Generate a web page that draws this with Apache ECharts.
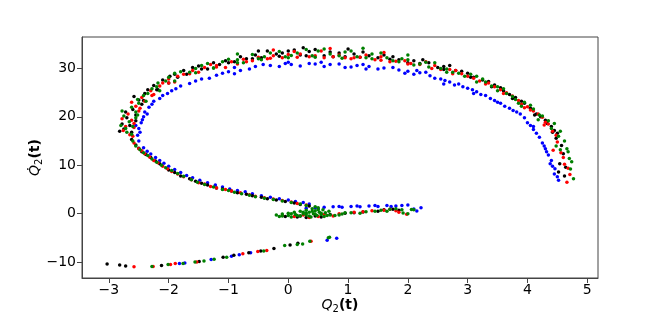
<!DOCTYPE html>
<html>
<head>
<meta charset="utf-8">
<script src="https://cdn.jsdelivr.net/npm/echarts@6/dist/echarts.min.js"></script>
<style>
html,body{margin:0;padding:0;background:#fff;}
#c{width:664px;height:313px;}
</style>
</head>
<body>
<div id="c"></div>
<script>
// Tick values
const xTicks = [-3, -2, -1, 0, 1, 2, 3, 4, 5];
const yTicks = [-10, 0, 10, 20, 30];

// Series names (drawing order)
const seriesNames = ['blue', 'black', 'red', 'green'];

// Points [Q2, dQ2/dt]
const bluePts = [
  [-1.82,-10.3],[-1.73,-10.2],[-1.29,-9.5],[-0.95,-8.8],[-0.82,-8.5],[-0.63,-8.1],[0.65,-5.5],[0.81,-5.1],
  [0.3,1.1],[0.45,1.2],[0.6,1.3],[0.75,1.4],[0.9,1.3],[1.05,1.5],[1.2,1.4],[1.35,1.6],[1.5,1.5],[1.65,1.7],[1.8,1.6],[1.9,1.7],[2.15,0.55],[2.22,1.24],[2.1,0.95],
  [0.5,1.0],[0.85,1.5],[1.15,1.6],[1.45,1.7],[1.72,1.5],[2.0,1.8],
  [0.25,2.3],[0.0,2.8],[-0.3,3.4],[-0.6,4.1],[-0.85,4.8],[-1.1,5.5],[-1.35,6.4],[-1.6,7.4],[-1.8,8.5],[-2.0,9.8],[-2.15,11.0],[-2.3,12.3],[-2.42,13.6],[-2.5,15.0],
  [0.35,2.0],[0.12,2.5],[-0.15,3.1],[-0.45,3.7],[-0.72,4.5],[-0.98,5.1],[-1.22,5.9],[-1.48,6.9],[-1.7,7.9],[-1.9,9.1],[-2.08,10.4],[-2.22,11.6],[-2.36,12.9],
  [-2.52,16.2],[-2.5,17.6],[-2.46,18.8],[-2.42,20.0],[-2.4,21.0],[-2.33,22.0],[-2.25,23.2],[-2.1,24.4],[-1.95,25.4],[-1.8,26.4],[-1.65,26.9],[-1.45,27.8],[-1.2,28.6],[-1.0,29.3],[-0.8,29.6],[-0.55,30.4],[-0.3,30.6],[-0.05,31.0],[0.2,30.5],[0.45,30.9],[0.7,30.8],[0.95,30.2],[1.15,30.6],[1.35,30.4],[1.6,30.1],[1.85,29.7],[2.0,29.4],[2.2,29.1],[2.37,28.5],[2.55,27.8],[2.7,27.2],[2.85,26.8],[3.0,25.9],[3.15,25.2],[3.3,24.4],[3.45,23.4],[3.55,22.8],[3.7,21.8],[3.82,21.0],[3.95,19.8],[4.0,18.8],[4.1,17.4],[4.2,15.8],[4.25,14.6],[4.3,13.4],[4.35,12.1],[4.38,10.3],[4.46,9.3],[4.52,6.9],[4.45,8.2],
  [-2.48,16.8],[-2.55,18.2],[-2.44,19.4],[-2.36,20.6],[-2.28,22.6],[-2.15,23.8],[-2.02,24.8],[-1.88,25.8],[-1.55,27.4],[-1.32,28.0],[-1.1,29.0],[-0.9,28.9],[-0.65,29.9],[-0.42,30.8],[-0.15,30.4],[0.05,30.8],[0.35,31.0],[0.6,30.4],[0.85,30.9],[1.05,30.3],[1.25,30.8],[1.5,29.9],[1.75,30.2],[2.1,28.8],[2.3,29.2],[2.45,28.0],[2.62,27.5],[2.78,26.6],[2.92,26.2],[3.08,25.6],[3.22,24.6],[3.38,23.8],[3.62,22.2],[3.76,21.3],[3.88,20.6],[4.05,18.2],[4.15,16.6],[4.28,14.0],[4.32,12.8],[4.4,11.0],[4.42,9.8],[4.5,7.6],
  [-0.9,30.2],[0.0,31.3],[0.55,31.3],[1.3,29.9],[1.95,29.0],[2.15,29.6],[2.6,26.8],[3.1,24.8],[3.5,23.0],[4.1,18.0]
];
const blackPts = [
  [-3.03,-10.4],[-2.82,-10.6],[-2.72,-10.8],[-2.12,-10.7],[-1.49,-9.9],[-1.09,-9.0],[-0.91,-8.6],[-0.66,-8.1],[-0.46,-7.7],[-0.24,-7.2],[0.03,-6.5],[0.16,-6.1],
  [-0.05,-0.6],[0.15,-0.7],[0.3,-0.8],[0.45,-0.5],[0.7,-0.2],[0.95,0.1],[1.25,0.35],[1.5,0.5],[1.75,0.9],[1.85,0.7],
  [0.55,-0.7],[0.2,-0.5],[1.1,0.2],[1.6,0.8],
  [0.35,1.6],[0.1,2.2],[-0.2,2.8],[-0.45,3.4],[-0.7,4.0],[-0.95,4.7],[-1.2,5.3],[-1.35,5.9],[-1.55,6.7],[-1.8,7.8],[-2.0,9.0],[-2.15,10.3],[-2.3,11.6],[-2.45,12.8],[-2.55,14.2],[-2.62,15.3],
  [0.2,1.9],[-0.05,2.5],[-0.35,3.1],[-0.6,3.7],[-0.85,4.3],[-1.1,5.1],[-1.45,6.3],[-1.65,7.2],[-1.9,8.5],[-2.22,10.9],[-2.38,12.2],[-2.5,13.5],
  [-2.75,17.5],[-2.7,19.8],[-2.78,18.5],[-2.6,21.5],[-2.5,23.5],[-2.4,24.8],[-2.25,26.5],[-2.1,27.6],[-1.9,28.8],[-1.75,29.6],[-1.5,30.5],[-1.25,31.2],[-1.05,31.6],[-0.8,32.4],[-0.55,32.8],[-0.35,33.6],[-0.1,33.2],[0.1,33.8],[0.35,33.5],[0.6,32.6],[0.85,33.2],[1.1,33.0],[1.35,32.6],[1.6,32.8],[1.85,31.8],[2.1,31.6],[2.35,31.2],[2.6,30.4],[2.8,29.6],[3.0,29.0],[3.25,27.6],[3.45,26.6],[3.6,25.4],[3.8,24.0],[3.9,23.2],[4.05,21.8],[4.15,20.6],[4.3,19.3],[4.4,18.0],[4.5,16.6],[4.45,17.2],[4.57,14.1],[4.6,12.4],[4.54,10.3],[4.52,8.6],[4.62,7.8],
  [-2.82,17.0],[-2.65,18.2],[-2.55,20.4],[-2.72,21.0],[-2.45,22.6],[-2.58,24.2],[-2.35,25.6],[-2.18,25.6],[-2.0,27.0],[-1.98,28.4],[-1.7,28.8],[-1.6,30.2],[-1.35,29.9],[-1.15,30.8],[-0.9,31.4],[-0.7,32.0],[-0.45,32.2],[-0.2,33.0],[0.0,33.6],[0.2,32.8],[0.45,33.9],[0.7,33.4],[0.95,32.4],[1.25,33.4],[1.5,32.2],[1.75,32.4],[2.0,31.2],[2.25,31.8],[2.5,30.2],[2.7,30.6],[2.9,29.4],[3.1,28.2],[3.35,27.3],[3.55,26.0],[3.7,24.6],[3.95,22.8],[4.22,20.0],[4.33,18.6],[4.48,15.6],[4.64,9.6],
  [-2.62,16.8],[-2.55,19.2],[-2.42,23.4],[-2.2,25.6],[-1.85,28.2],[-1.45,29.9],[-1.0,31.2],[-0.6,32.0],[-0.15,32.5],[0.3,32.6],[0.75,32.4],[1.2,32.3],[1.7,31.9],[2.2,31.0],[2.6,29.8],[3.05,28.2],[3.4,26.2],[3.75,23.8],[4.12,20.4],[4.42,16.8],[0.25,34.3],[1.0,34.0],[-0.5,33.6]
];
const redPts = [
  [-2.58,-11.0],[-2.26,-10.9],[-1.97,-10.5],[-1.89,-10.3],[-1.53,-10.0],[-0.76,-8.3],[-0.51,-7.8],[-0.36,-7.6],[0.38,-5.7],
  [-0.1,-0.4],[0.1,-0.6],[0.25,-0.3],[0.5,-0.6],[0.6,-0.2],[0.85,0.0],[1.1,0.3],[1.4,0.6],[1.6,0.7],[1.8,0.6],[1.98,-0.15],
  [0.35,-0.8],[0.75,-0.5],[1.25,0.4],[1.7,0.9],[1.85,0.3],
  [0.3,1.8],[0.05,2.4],[-0.25,3.0],[-0.55,3.6],[-0.8,4.3],[-1.05,5.0],[-1.3,5.6],[-1.5,6.4],[-1.75,7.6],[-1.95,8.7],[-2.1,9.8],[-2.25,11.0],[-2.4,12.4],[-2.5,13.4],[-2.58,14.6],
  [0.15,2.1],[-0.1,2.7],[-0.4,3.3],[-0.65,3.9],[-0.95,4.7],[-1.2,5.3],[-1.4,6.1],[-1.62,7.0],[-1.85,8.2],[-2.02,9.3],[-2.18,10.5],[-2.32,11.7],[-2.45,13.0],
  [-2.65,16.3],[-2.72,18.0],[-2.62,19.3],[-2.68,20.6],[-2.55,22.2],[-2.45,24.0],[-2.3,25.4],[-2.15,26.4],[-2.0,27.8],[-1.85,28.4],[-1.6,29.6],[-1.4,30.2],[-1.2,30.6],[-0.95,31.4],[-0.75,31.9],[-0.5,32.3],[-0.25,32.6],[0.0,32.9],[0.2,33.0],[0.45,32.6],[0.75,32.4],[0.95,32.2],[1.2,32.3],[1.45,31.8],[1.7,31.4],[1.95,31.6],[2.2,30.8],[2.45,30.6],[2.7,29.8],[2.9,28.9],[3.1,28.0],[3.35,27.0],[3.55,25.6],[3.75,24.3],[3.85,23.4],[4.0,22.1],[4.1,21.2],[4.25,19.9],[4.35,18.5],[4.42,17.0],[4.43,13.1],[4.5,14.8],[4.6,11.6],[4.68,9.4],[4.71,8.1],[4.66,6.5],
  [-2.76,17.2],[-2.58,17.8],[-2.78,19.6],[-2.5,21.2],[-2.62,23.0],[-2.4,23.2],[-2.25,24.6],[-2.1,27.0],[-1.9,27.2],[-1.75,28.8],[-1.5,29.2],[-1.3,30.8],[-1.05,30.2],[-0.85,30.9],[-0.6,31.6],[-0.35,32.0],[-0.1,32.2],[0.1,33.5],[0.35,32.4],[0.55,33.6],[0.85,32.8],[1.1,32.2],[1.3,32.8],[1.55,32.4],[1.8,31.5],[2.05,31.0],[2.3,31.4],[2.55,29.8],[2.8,29.6],[3.0,28.4],[3.2,27.4],[3.45,26.2],[3.65,25.0],[3.9,22.6],[4.05,21.4],[4.18,20.6],[4.3,18.9],[4.48,16.2],[4.56,12.6],[4.62,10.2],
  [-2.6,16.0],[-2.58,18.6],[-2.48,21.8],[-2.28,24.4],[-2.0,27.0],[-1.65,28.9],[-1.2,30.3],[-0.7,31.4],[-0.3,32.1],[0.15,32.3],[0.6,32.2],[1.05,32.0],[1.55,31.7],[2.0,30.9],[2.4,30.0],[2.75,28.9],[3.3,26.8],[3.6,24.8],[3.95,21.9],[4.28,18.3],[0.7,34.1],[-0.25,33.8],[1.6,33.3]
];
const greenPts = [
  [-2.28,-10.9],[-2.01,-10.5],[-1.76,-10.3],[-1.56,-10.0],[-1.41,-9.8],[-1.24,-9.4],[-1.03,-9.0],[-0.41,-7.7],[-0.06,-6.6],[0.15,-6.4],[0.24,-6.3],[0.36,-5.7],[0.67,-5.0],[0.69,-4.9],
  [-0.2,-0.3],[-0.1,-0.1],[-0.1,-0.5],[0.0,0.1],[0.0,-0.4],[0.05,-0.7],[0.1,0.3],[0.12,-0.2],[0.2,0.5],[0.2,-0.5],[0.25,0.0],[0.3,0.7],[0.3,-0.3],[0.35,0.3],[0.38,-0.7],[0.4,1.0],[0.42,0.0],[0.45,0.6],[0.48,-0.4],[0.5,1.2],[0.52,0.3],[0.55,-0.2],[0.58,0.8],[0.6,-0.6],[0.62,0.2],[0.7,-0.3],[0.78,-0.4],[0.9,-0.1],[1.05,0.2],[1.3,0.4],[1.55,0.7],[1.7,0.9],[1.9,0.8],[2.0,0.0],[2.06,0.83],[1.92,0.12],
  [-0.15,-0.6],[0.05,0.0],[0.15,-0.4],[0.25,0.3],[0.3,0.1],[0.35,-0.5],[0.4,0.5],[0.45,-0.1],[0.5,0.8],[0.55,0.1],[0.65,-0.4],[0.68,0.5],[0.85,-0.3],[0.95,0.2],[1.2,0.1],[1.45,0.5],[1.65,0.5],[1.8,1.0],[2.1,0.8],
  [0.45,1.4],[0.2,2.0],[-0.1,2.6],[-0.4,3.2],[-0.65,3.8],[-0.9,4.4],[-1.1,5.0],[-1.4,6.0],[-1.62,7.0],[-1.85,8.3],[-2.05,9.5],[-2.2,10.6],[-2.35,12.0],[-2.48,13.2],[-2.6,15.0],
  [0.3,1.7],[0.05,2.3],[-0.25,2.9],[-0.55,3.5],[-0.78,4.1],[-1.0,4.8],[-1.25,5.5],[-1.52,6.5],[-1.75,7.7],[-1.95,8.9],[-2.12,10.0],[-2.28,11.3],[-2.42,12.6],[-2.55,14.0],
  [-2.7,16.8],[-2.8,18.2],[-2.66,19.0],[-2.75,20.2],[-2.62,22.0],[-2.5,22.8],[-2.42,24.4],[-2.28,25.8],[-2.18,27.0],[-2.0,28.2],[-1.8,29.3],[-1.55,30.0],[-1.35,31.0],[-1.1,31.4],[-0.85,31.8],[-0.6,32.9],[-0.4,32.4],[-0.15,33.5],[0.05,32.7],[0.3,33.9],[0.5,33.6],[0.7,33.0],[0.95,33.4],[1.15,32.4],[1.4,33.0],[1.65,32.2],[1.9,32.0],[2.1,30.7],[2.3,31.3],[2.55,30.0],[2.75,29.2],[2.95,28.4],[3.15,28.4],[3.3,27.2],[3.5,26.2],[3.65,24.8],[3.8,23.6],[3.95,23.0],[4.1,21.6],[4.2,20.4],[4.35,19.2],[4.45,18.6],[4.52,16.0],[4.48,14.0],[4.62,15.0],[4.74,10.7],[4.68,12.8],[4.77,7.2],[4.7,11.4],
  [-2.72,17.6],[-2.6,18.0],[-2.55,19.8],[-2.78,21.2],[-2.55,21.0],[-2.52,23.6],[-2.35,24.8],[-2.2,26.2],[-2.05,27.4],[-1.9,29.0],[-1.65,29.2],[-1.45,30.6],[-1.25,30.1],[-1.0,31.9],[-0.75,31.2],[-0.5,32.0],[-0.3,33.2],[-0.05,32.4],[0.15,33.2],[0.4,32.6],[0.6,34.0],[0.85,32.6],[1.05,33.6],[1.3,32.2],[1.55,33.2],[1.75,31.6],[2.0,31.8],[2.2,30.9],[2.45,31.2],[2.65,29.9],[2.85,29.0],[3.05,28.8],[3.25,27.8],[3.4,26.4],[3.6,25.8],[3.75,24.2],[3.9,22.2],[4.05,22.4],[4.25,20.2],[4.4,17.6],[4.55,17.0],[4.66,13.4],[4.72,9.2],
  [-2.62,16.4],[-2.52,20.4],[-2.38,23.2],[-2.15,25.4],[-1.9,27.4],[-1.55,29.1],[-1.25,30.1],[-0.85,31.2],[-0.45,31.8],[0.0,32.2],[0.45,32.3],[0.9,32.1],[1.4,32.0],[1.85,31.4],[2.35,30.3],[2.65,29.2],[3.15,27.2],[3.5,25.4],[3.85,22.8],[4.18,19.4],[4.55,13.2],[-0.85,33.0],[1.25,34.2],[2.0,32.8]
];

const colors = {blue:'#0000ff', black:'#000000', red:'#ff0000', green:'#008000'};
const dataByName = {blue: bluePts, black: blackPts, red: redPts, green: greenPts};

const fmt = v => (v < 0 ? '\u2212' + (-v) : String(v));
const FONT = 'DejaVu Sans';
const nameRich = {
  i: {fontStyle: 'italic', fontSize: 14, fontFamily: FONT, color: '#000'},
  s: {fontSize: 10, fontFamily: FONT, color: '#000', padding: [7, 0, 0, 0]},
  b: {fontWeight: 'bold', fontSize: 14, fontFamily: FONT, color: '#000'}
};

const chart = echarts.init(document.getElementById('c'), null, {renderer:'canvas'});
chart.setOption({
  animation: false,
  backgroundColor: '#fff',
  grid: {left: 82, right: 66, top: 37, bottom: 35, outerBoundsMode: 'none', containLabel: false,
         show: true, borderColor: '#444', borderWidth: 1, backgroundColor: 'transparent'},
  xAxis: {
    type: 'value', min: -3.45, max: 5.18,
    splitLine: {show: false},
    axisLine: {show: true, onZero: false, lineStyle: {color: '#444', width: 1}},
    axisTick: {show: true, length: 5, customValues: xTicks, lineStyle: {color: '#444'}},
    axisLabel: {customValues: xTicks, formatter: fmt, color: '#000', fontSize: 14, fontFamily: FONT, margin: 5},
    name: '{i|Q}{s|2}{b|(t)}',
    nameLocation: 'middle', nameGap: 19, nameMoveOverlap: false,
    nameTextStyle: {fontFamily: FONT, color: '#000', verticalAlign: 'top', rich: nameRich}
  },
  yAxis: {
    type: 'value', min: -13.3, max: 36.5,
    splitLine: {show: false},
    axisLine: {show: true, onZero: false, lineStyle: {color: '#444', width: 1}},
    axisTick: {show: true, length: 5, customValues: yTicks, lineStyle: {color: '#444'}},
    axisLabel: {customValues: yTicks, formatter: fmt, color: '#000', fontSize: 14, fontFamily: FONT, margin: 6},
    name: '{i|Q\u0307}{s|2}{b|(t)}',
    nameLocation: 'middle', nameGap: 38, nameRotate: 90, nameMoveOverlap: false,
    nameTextStyle: {fontFamily: FONT, color: '#000', rich: nameRich}
  },
  series: seriesNames.map(n => ({
    name: n, type: 'scatter', symbol: 'circle', symbolSize: 3.5,
    itemStyle: {color: colors[n], opacity: 1},
    emphasis: {disabled: true},
    data: dataByName[n]
  }))
});
</script>
</body>
</html>
